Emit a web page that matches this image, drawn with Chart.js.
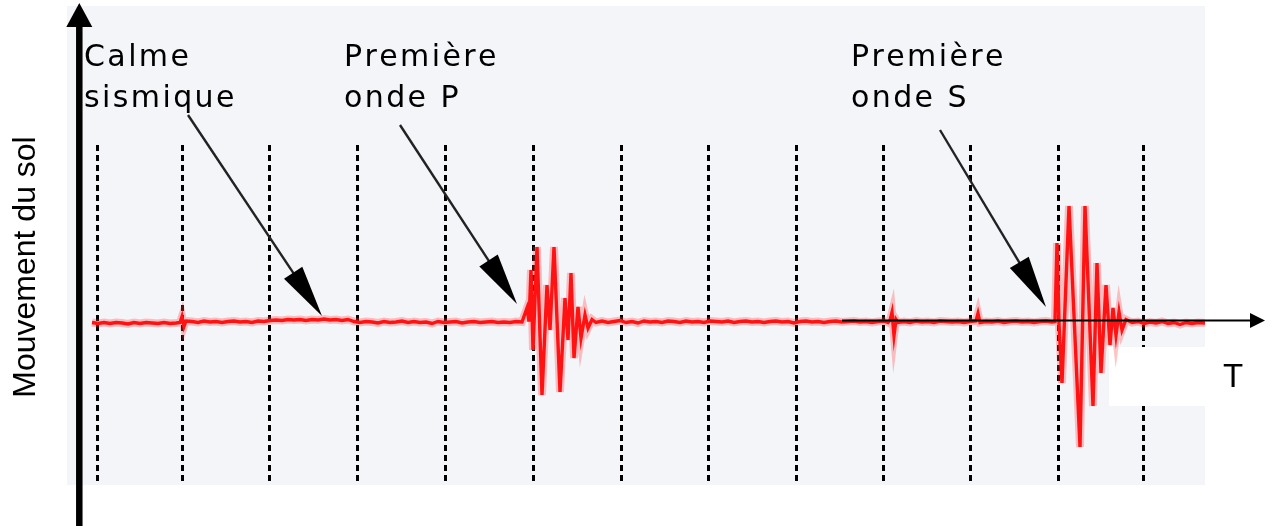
<!DOCTYPE html>
<html><head><meta charset="utf-8">
<script src="https://cdn.jsdelivr.net/npm/chart.js@4"></script>
<style>html,body{margin:0;padding:0;background:#fff}canvas{display:block}</style>
</head><body>
<canvas id="c" width="1274" height="526" style="width:1274px;height:526px"></canvas>
<script>
// ---- Data (time in arbitrary units, ground motion in arbitrary units) ----
const temps = [
  24,30,36,42,48,54,60,66,72,78,84,90,96,102,108,
  112,114,116,118,
  124,130,136,142,148,154,160,166,172,178,184,190,196,202,
  208,214,220,226,232,238,244,250,256,262,268,274,280,
  286,292,298,304,310,316,322,328,334,340,346,352,358,364,370,376,382,388,394,400,406,412,418,424,430,436,442,448,454,
  459,461,463,465,469,474,479,482,486,492,497,500,503,506,510,513,517,520,524,528,
  534,540,546,552,558,564,570,576,582,588,594,600,606,612,618,624,630,636,642,648,654,660,666,672,678,684,690,696,702,708,714,720,726,732,738,744,750,756,762,768,774,780,786,792,798,804,810,816,820,
  822,824,826,828,830,
  836,842,848,854,860,866,872,878,884,890,896,902,908,910,912,
  918,924,930,936,942,948,954,960,966,972,978,984,
  987,989,991,994,1001,1012,1017,1025,1029,1033,1038,1042,1045,1048,1051,1054,1058,
  1064,1070,1076,1082,1088,1094,1100,1106,1112,1118,1124,1130,1137
];
const mouvement = [
  -1,-2,-1,-2,-1,-1.5,-2.5,-1,-2,-1,-1.5,-2,-1,-2,-1.5,
  -1,5,-5,0.5,
  0,-1,0.5,-0.5,0,-1,0,0.5,-0.5,0,-1,0.5,0,1,
  1.5,1,2,1.5,2,1,2,1.5,2.5,1.5,2,1,2,
  0,-1,0,-0.5,-1.5,0,-1,-0.5,0.5,-1,0,-1,-0.5,-2,0,-1,-0.5,0,-1.5,-0.5,0,-1,-0.5,0,-1,-0.5,-1,0,-0.5,
  13.5,0,51.5,-28.5,74.5,-73.5,36.5,-8.5,74.5,-70.5,23.5,-18.5,48.5,-36.5,14.5,-16.5,6.5,-6.5,2,-1,
  0.5,-1,0,1,-1,0,-1.5,0.5,-0.5,0,-1,0.5,0,-1,0.5,-0.5,0,-1,0.5,0,-0.5,0.5,-1,0,0.5,-0.5,0,-1,0,0.5,-0.5,0,-1.5,0,0.5,-0.5,0,-1,0,0.5,-0.5,0,0.5,-0.5,0,-1,0,0.5,-1,
  1,9,-14,2,-1,
  0,-1,0.5,-0.5,0,-1,0.5,0,-0.5,0,-1,0,0.5,8,-1,
  0,-0.5,0.5,-1,0,0.5,-0.5,0,-1,0,0.5,-0.5,
  0,78.5,-2,-61.5,115.5,-125.5,115.5,-84.5,58.5,-51.5,36.5,-23.5,13.5,-13.5,9.5,-8.5,2,
  -1,0,-2,-0.5,-1.5,0,-2,-1,-3,-1,-2,-1,-1.5
];
const graduations = [29,114,201,289,377,465,553,640,728,815,902,990,1075];
const etiquettes = [["Calme","sismique"],["Première","onde P"],["Première","onde S"]];
const titreAxeY = "Mouvement du sol";
const titreAxeX = "T";

// ---- Layout of annotations (in scale units) ----
const L = {
  gridTop: 176.5,
  labelT: [16, 276, 783],
  labelA: 255.5, lineGap: 41,
  arrows: [[120,206.5,254,5.5],[332,196.5,449,17.5],[872,191.5,978,14.5]],
  box: [1041,1138,-25.5,-84.5],
  xAxis: {t0:774, t1:1197, a:1},
  yAxis: {t:11.3, aTop:318.5, aBot:-210},
  yTitle: {t:-42, a:54.5},
  xTitle: {t:1155, a:-65.5}
};

function arrow(ctx,x0,y0,x1,y1,headLen,headHalf,shaftW,shaftColor){
  const dx=x1-x0, dy=y1-y0, len=Math.hypot(dx,dy), ux=dx/len, uy=dy/len;
  const bx=x1-ux*headLen, by=y1-uy*headLen;
  ctx.strokeStyle=shaftColor; ctx.lineWidth=shaftW; ctx.lineCap='butt';
  ctx.beginPath(); ctx.moveTo(x0,y0); ctx.lineTo(bx+ux*2,by+uy*2); ctx.stroke();
  ctx.fillStyle='#000';
  ctx.beginPath(); ctx.moveTo(x1,y1);
  ctx.lineTo(bx-uy*headHalf, by+ux*headHalf);
  ctx.lineTo(bx+uy*headHalf, by-ux*headHalf);
  ctx.closePath(); ctx.fill();
}
function spaced(ctx,s,x,y,sp){
  for(const ch of s){ ctx.fillText(ch,x,y); x += ctx.measureText(ch).width + sp; }
}

const decor = {
  id:'decor',
  beforeDatasetsDraw(chart){
    const {ctx, chartArea:ca, scales:{x,y}} = chart;
    ctx.save();
    ctx.fillStyle='#f4f5f9';
    ctx.fillRect(ca.left, ca.top, ca.right-ca.left, ca.bottom-ca.top);
    ctx.strokeStyle='#000'; ctx.lineWidth=3; ctx.setLineDash([6,4]);
    graduations.forEach(t=>{
      const px=Math.round(x.getPixelForValue(t))+0.5;
      ctx.beginPath(); ctx.moveTo(px, y.getPixelForValue(L.gridTop)); ctx.lineTo(px, ca.bottom); ctx.stroke();
    });
    ctx.setLineDash([]);
    const b=L.box;
    ctx.fillStyle='#ffffff';
    const bx0=x.getPixelForValue(b[0]), bx1=x.getPixelForValue(b[1]);
    const by0=y.getPixelForValue(b[2]), by1=y.getPixelForValue(b[3]);
    ctx.fillRect(bx0,by0,bx1-bx0,by1-by0);
    ctx.restore();
  },
  afterDatasetsDraw(chart){
    const {ctx, scales:{x,y}} = chart;
    ctx.save();
    // x axis
    const xa=L.xAxis, ya=y.getPixelForValue(xa.a);
    arrow(ctx, x.getPixelForValue(xa.t0), ya, x.getPixelForValue(xa.t1), ya, 15, 7.5, 2, '#000');
    // y axis
    const yx=x.getPixelForValue(L.yAxis.t);
    arrow(ctx, yx, y.getPixelForValue(L.yAxis.aBot), yx, y.getPixelForValue(L.yAxis.aTop), 24, 13, 6.5, '#000');
    // pointer arrows
    L.arrows.forEach(p=>{
      arrow(ctx, x.getPixelForValue(p[0]), y.getPixelForValue(p[1]), x.getPixelForValue(p[2]), y.getPixelForValue(p[3]), 52, 11, 2.4, '#222');
    });
    // labels
    ctx.fillStyle='#000';
    ctx.font='30px "DejaVu Sans", sans-serif';
    ctx.textBaseline='alphabetic'; ctx.textAlign='left';
    etiquettes.forEach((lines,i)=>{
      const px=x.getPixelForValue(L.labelT[i]);
      lines.forEach((s,j)=>{
        spaced(ctx, s, px, y.getPixelForValue(L.labelA - j*L.lineGap), 2.4);
      });
    });
    // axis titles
    ctx.font='32px "Liberation Sans", Arial, sans-serif';
    ctx.save();
    ctx.translate(x.getPixelForValue(L.yTitle.t), y.getPixelForValue(L.yTitle.a));
    ctx.rotate(-Math.PI/2);
    ctx.textAlign='center'; ctx.textBaseline='middle';
    ctx.fillText(titreAxeY,0,0);
    ctx.restore();
    ctx.font='33px "Liberation Sans", Arial, sans-serif';
    ctx.textAlign='left'; ctx.textBaseline='alphabetic';
    ctx.fillText(titreAxeX, x.getPixelForValue(L.xTitle.t), y.getPixelForValue(L.xTitle.a));
    ctx.restore();
  }
};

const points = temps.map((t,i)=>({x:t, y:mouvement[i]}));
new Chart(document.getElementById('c'), {
  type:'line',
  data:{ datasets:[
    {data:points, borderColor:'rgba(255,60,60,0.3)', borderWidth:8, pointRadius:0, tension:0, fill:false},
    {data:points, borderColor:'#ff0000', borderWidth:3.4, pointRadius:0, tension:0, fill:false}
  ]},
  options:{
    responsive:false, animation:false, devicePixelRatio:1, events:[],
    layout:{padding:{left:67,right:69,top:6,bottom:41}},
    plugins:{legend:{display:false}, tooltip:{enabled:false}},
    scales:{
      x:{type:'linear', display:false, min:-1, max:1137},
      y:{type:'linear', display:false, min:-163.5, max:315.5}
    }
  },
  plugins:[decor]
});
</script>
</body></html>
